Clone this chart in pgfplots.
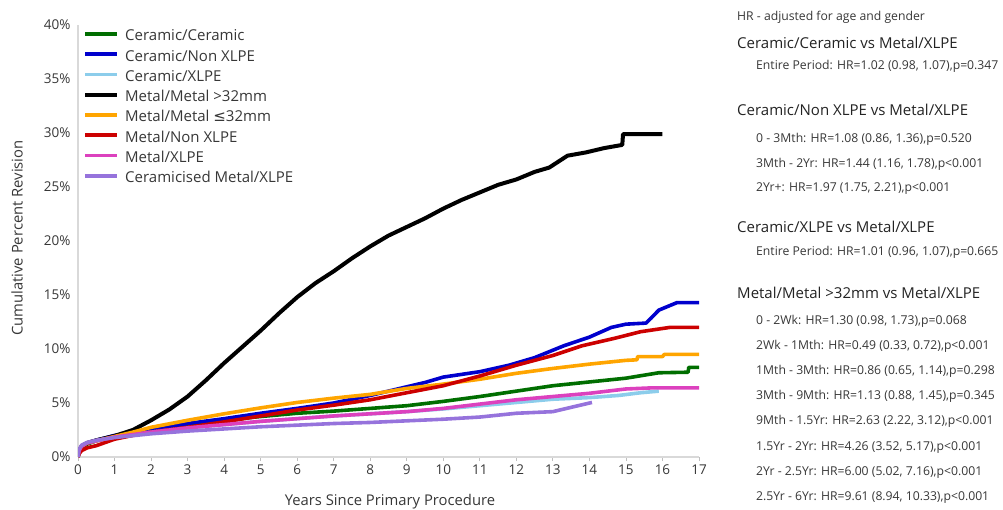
\documentclass[border=0pt]{standalone}
\usepackage{fontspec}
\setmainfont{Open Sans}
\newfontfamily\dv{DejaVu Sans}
\usepackage{pgfplots}
\pgfplotsset{compat=1.18}

\definecolor{ccgreen}{RGB}{0,110,0}
\definecolor{cnblue}{RGB}{0,0,205}
\definecolor{cxlight}{RGB}{140,205,235}
\definecolor{mmorange}{RGB}{255,165,0}
\definecolor{mnred}{RGB}{204,0,0}
\definecolor{mxmag}{RGB}{220,65,190}
\definecolor{cmpurple}{RGB}{150,115,220}
\definecolor{txt}{RGB}{55,55,55}
\definecolor{head}{RGB}{35,35,35}

\newcommand{\sm}{\fontsize{12.2}{14}\selectfont}
\newcommand{\hd}{\fontsize{15}{17}\selectfont}
\newcommand{\tk}{\fontsize{13.5}{16}\selectfont}
\newcommand{\ttl}{\fontsize{14.8}{17}\selectfont}

\begin{document}
\begin{tikzpicture}[x=1pt,y=1pt]
\useasboundingbox (0,0) rectangle (1003,-509);

\begin{axis}[
    at={(78pt,-457pt)}, anchor=south west,
    scale only axis, width=621pt, height=432pt,
    xmin=0, xmax=17, ymin=0, ymax=40,
    axis x line*=bottom, axis y line*=left,
    axis line style={draw=black!15, line width=1.8pt},
    xtick={0,...,17}, ytick={0,5,...,40},
    xtick style={draw=black!25, line width=0.8pt},
    ytick style={draw=none},
    tick align=outside, major tick length=4pt,
    yticklabel={\pgfmathprintnumber{\tick}\%},
    /pgf/number format/assume math mode=true,
    ticklabel style={font=\tk, text=txt},
    legend style={at={(axis cs:0,40)}, anchor=north west, xshift=2pt, yshift=-1pt,
        draw=none, fill=none, font=\hd, text=txt,
        nodes={inner sep=2pt, text height=10.5pt, text depth=3.5pt},
        row sep=2.3pt, column sep=4pt},
    legend cell align=left,
    legend image code/.code={\draw[#1] (0pt,3.5pt) -- (32pt,3.5pt);},
    every axis plot/.append style={line width=3.6pt, line join=round},
]
\addplot[ccgreen] coordinates {(0,0) (0.03,0.5) (0.1,0.9) (0.25,1.2) (0.5,1.5) (1,1.9) (1.5,2.2) (2,2.4) (3,2.95) (4,3.4) (5,3.75) (6,4.05) (7,4.25) (8,4.5) (9,4.75) (10,5.15) (11,5.6) (12,6.1) (13,6.6) (14,6.95) (15,7.3) (15.9,7.8) (16.7,7.85) (16.72,8.3) (17,8.3)};
\addlegendentry{Ceramic/Ceramic}
\addplot[cnblue] coordinates {(0,0) (0.03,0.6) (0.1,1.0) (0.25,1.3) (0.5,1.55) (1,2.0) (1.5,2.25) (2,2.5) (3,3.1) (4,3.55) (5,4.05) (6,4.5) (7,5.0) (8,5.7) (9,6.5) (9.5,6.9) (10,7.4) (11,7.9) (11.8,8.5) (12.5,9.2) (13.3,10.3) (14,11.1) (14.6,12.0) (15.0,12.3) (15.55,12.4) (15.7,12.9) (15.9,13.6) (16.4,14.3) (17,14.3)};
\addlegendentry{Ceramic/Non XLPE}
\addplot[cxlight] coordinates {(0,0) (0.03,0.6) (0.1,1.0) (0.25,1.3) (0.5,1.5) (1,1.85) (2,2.3) (3,2.7) (4,3.0) (5,3.3) (6,3.55) (7,3.8) (8,4.0) (9,4.2) (10,4.45) (11,4.75) (12,5.05) (13,5.35) (14,5.5) (14.8,5.7) (15.4,5.95) (15.9,6.1)};
\addlegendentry{Ceramic/XLPE}
\addplot[black, line width=4pt] coordinates {(0,0) (0.03,0.6) (0.1,1.0) (0.25,1.3) (0.5,1.55) (1,1.95) (1.5,2.5) (2,3.4) (2.5,4.4) (3,5.6) (3.5,7.1) (4,8.7) (4.5,10.2) (5,11.7) (5.5,13.3) (6,14.8) (6.5,16.1) (7,17.2) (7.5,18.4) (8,19.5) (8.5,20.5) (9,21.3) (9.5,22.1) (10,23.0) (10.5,23.8) (11,24.5) (11.5,25.2) (12,25.7) (12.5,26.4) (12.9,26.8) (13.4,27.9) (13.9,28.2) (14.4,28.6) (14.9,28.9) (14.92,29.9) (16,29.9)};
\addlegendentry{Metal/Metal >32mm}
\addplot[mmorange] coordinates {(0,0) (0.03,0.6) (0.1,1.0) (0.25,1.3) (0.5,1.5) (1,1.9) (1.5,2.3) (2,2.75) (3,3.4) (4,4.0) (5,4.55) (6,5.05) (7,5.45) (8,5.8) (9,6.35) (10,6.75) (11,7.2) (12,7.75) (13,8.2) (14,8.6) (15,8.95) (15.3,9.0) (15.32,9.3) (16.0,9.3) (16.05,9.5) (17,9.5)};
\addlegendentry{Metal/Metal {\dv ≤}32mm}
\addplot[mnred] coordinates {(0,0) (0.03,0.3) (0.1,0.6) (0.25,0.85) (0.5,1.05) (1,1.65) (1.5,2.0) (2,2.3) (3,2.75) (4,3.25) (5,3.8) (6,4.35) (7,4.8) (8,5.3) (9,5.95) (10,6.6) (11,7.5) (12,8.5) (13,9.4) (13.8,10.3) (14.7,11.0) (15.4,11.6) (16.2,12.0) (17,12.0)};
\addlegendentry{Metal/Non XLPE}
\addplot[mxmag] coordinates {(0,0) (0.03,0.6) (0.1,1.0) (0.25,1.3) (0.5,1.5) (1,1.85) (2,2.3) (3,2.7) (4,3.0) (5,3.3) (6,3.55) (7,3.8) (8,4.0) (9,4.2) (10,4.5) (11,4.9) (12,5.3) (13,5.6) (14,5.9) (15,6.3) (15.7,6.4) (17,6.4)};
\addlegendentry{Metal/XLPE}
\addplot[cmpurple] coordinates {(0,0) (0.03,0.7) (0.1,1.1) (0.25,1.35) (0.5,1.55) (1,1.8) (2,2.15) (3,2.4) (4,2.6) (5,2.8) (6,2.95) (7,3.1) (8,3.2) (9,3.35) (10,3.5) (11,3.7) (12,4.05) (13,4.2) (13.5,4.6) (14.07,5.05)};
\addlegendentry{Ceramicised Metal/XLPE}
\end{axis}

% axis titles
\node[font=\ttl, text=txt] at (390,-502) {Years Since Primary Procedure};
\node[font=\ttl, text=txt, rotate=90] at (17,-238) {Cumulative Percent Revision};

% hazard ratio panel
\begin{scope}[every node/.style={anchor=base west, inner sep=0pt}]
\node[font=\sm, text=txt] at (737,-20.5) {HR - adjusted for age and gender};
\node[font=\hd, text=head] at (737,-48.5) {Ceramic/Ceramic vs Metal/XLPE};
\node[font=\sm, text=txt] at (756,-69.5) {Entire Period: HR=1.02 (0.98, 1.07),p=0.347};
\node[font=\hd, text=head] at (737,-115.5) {Ceramic/Non XLPE vs Metal/XLPE};
\node[font=\sm, text=txt] at (756,-142.5) {0 - 3Mth: HR=1.08 (0.86, 1.36),p=0.520};
\node[font=\sm, text=txt] at (756,-167.5) {3Mth - 2Yr: HR=1.44 (1.16, 1.78),p<0.001};
\node[font=\sm, text=txt] at (756,-191.5) {2Yr+: HR=1.97 (1.75, 2.21),p<0.001};
\node[font=\hd, text=head] at (737,-232.5) {Ceramic/XLPE vs Metal/XLPE};
\node[font=\sm, text=txt] at (756,-255.5) {Entire Period: HR=1.01 (0.96, 1.07),p=0.665};
\node[font=\hd, text=head] at (737,-298.5) {Metal/Metal >32mm vs Metal/XLPE};
\node[font=\sm, text=txt] at (756,-324.5) {0 - 2Wk: HR=1.30 (0.98, 1.73),p=0.068};
\node[font=\sm, text=txt] at (756,-349.5) {2Wk - 1Mth: HR=0.49 (0.33, 0.72),p<0.001};
\node[font=\sm, text=txt] at (756,-374.5) {1Mth - 3Mth: HR=0.86 (0.65, 1.14),p=0.298};
\node[font=\sm, text=txt] at (756,-399.5) {3Mth - 9Mth: HR=1.13 (0.88, 1.45),p=0.345};
\node[font=\sm, text=txt] at (756,-424.5) {9Mth - 1.5Yr: HR=2.63 (2.22, 3.12),p<0.001};
\node[font=\sm, text=txt] at (756,-450.5) {1.5Yr - 2Yr: HR=4.26 (3.52, 5.17),p<0.001};
\node[font=\sm, text=txt] at (756,-475.5) {2Yr - 2.5Yr: HR=6.00 (5.02, 7.16),p<0.001};
\node[font=\sm, text=txt] at (756,-500.5) {2.5Yr - 6Yr: HR=9.61 (8.94, 10.33),p<0.001};
\end{scope}
\end{tikzpicture}
\end{document}
